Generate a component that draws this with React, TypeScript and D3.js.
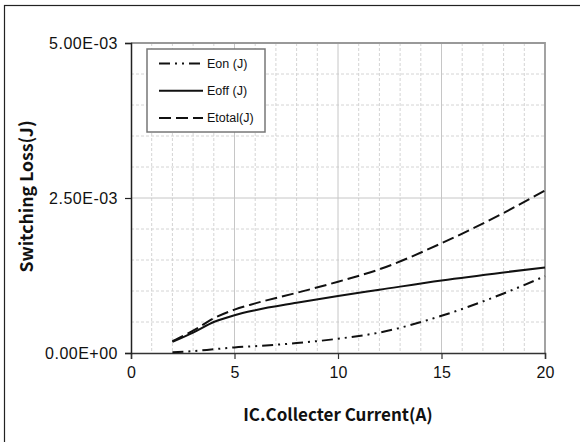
import React, { useEffect, useRef } from "react";
import * as d3 from "d3";

// collector current (A)
const current = [2, 3, 4, 5, 6, 8, 10, 12, 15, 18, 20];
// switching losses (J)
const eon = [0.00001, 0.00003, 0.00006, 0.00009, 0.00011, 0.00016, 0.00023, 0.00033, 0.0006, 0.00096, 0.00124];
const eoff = [0.00018, 0.00033, 0.0005, 0.00061, 0.00069, 0.00081, 0.00092, 0.00102, 0.00117, 0.0013, 0.00138];
const etotal = [0.00019, 0.00036, 0.00056, 0.0007, 0.0008, 0.00097, 0.00115, 0.00135, 0.00177, 0.00226, 0.00262];

const xTicks = [0, 5, 10, 15, 20];
const yTicks = [0, 0.0025, 0.005];
const yTickLabels = ["0.00E+00", "2.50E-03", "5.00E-03"];

const seriesNames = ["Eon (J)", "Eoff (J)", "Etotal(J)"];
const seriesDash = ["11,5,2,5,2,5", null, "12,5"];

const App: React.FC = () => {
  const svgRef = useRef<SVGSVGElement>(null);

  useEffect(() => {
    if (!svgRef.current) return;
    const svg = d3.select(svgRef.current);
    svg.selectAll("*").remove();

    const width = 580;
    const height = 442;
    const margin = { top: 43, right: 35, bottom: 89, left: 131 };
    const w = width - margin.left - margin.right;
    const h = height - margin.top - margin.bottom;

    svg.append("rect").attr("width", width).attr("height", height).attr("fill", "white");

    // outer border
    svg
      .append("rect")
      .attr("x", 4.5)
      .attr("y", 5.5)
      .attr("width", width)
      .attr("height", height)
      .attr("fill", "none")
      .attr("stroke", "#222")
      .attr("stroke-width", 1.2);

    const g = svg.append("g").attr("transform", `translate(${margin.left},${margin.top})`);

    const x = d3.scaleLinear().domain([0, 20]).range([0, w]);
    const y = d3.scaleLinear().domain([0, 0.005]).range([h, 0]);

    // minor grid
    const minorX = d3.range(1, 20).filter((v) => v % 5 !== 0);
    const minorY = d3.range(1, 10).filter((v) => v % 5 !== 0).map((v) => v * 0.0005);
    g.selectAll(".mx")
      .data(minorX)
      .enter()
      .append("line")
      .attr("x1", (d) => x(d))
      .attr("x2", (d) => x(d))
      .attr("y1", 0)
      .attr("y2", h)
      .attr("stroke", "#d4d4d4")
      .attr("stroke-dasharray", "3,2");
    g.selectAll(".my")
      .data(minorY)
      .enter()
      .append("line")
      .attr("x1", 0)
      .attr("x2", w)
      .attr("y1", (d) => y(d))
      .attr("y2", (d) => y(d))
      .attr("stroke", "#d4d4d4")
      .attr("stroke-dasharray", "3,2");

    // major grid
    g.selectAll(".Mx")
      .data([5, 10, 15])
      .enter()
      .append("line")
      .attr("x1", (d) => x(d))
      .attr("x2", (d) => x(d))
      .attr("y1", 0)
      .attr("y2", h)
      .attr("stroke", "#c6c6c6");
    g.selectAll(".My")
      .data([0.0025])
      .enter()
      .append("line")
      .attr("x1", 0)
      .attr("x2", w)
      .attr("y1", (d) => y(d))
      .attr("y2", (d) => y(d))
      .attr("stroke", "#c6c6c6");

    // plot frame top/right
    g.append("path")
      .attr("d", `M0,0H${w}V${h}`)
      .attr("fill", "none")
      .attr("stroke", "#999")
      .attr("stroke-width", 1.8);

    // axes
    const xAxis = g
      .append("g")
      .attr("transform", `translate(0,${h})`)
      .call(d3.axisBottom(x).tickValues(xTicks).tickSize(6).tickFormat((d) => `${d}`));
    xAxis.select(".domain").attr("stroke", "#333").attr("stroke-width", 1.5);
    xAxis.selectAll(".tick line").attr("stroke", "#333").attr("stroke-width", 1.2);
    xAxis
      .selectAll("text")
      .attr("y", 14)
      .attr("dy", "0.71em")
      .style("font-family", "Liberation Sans, Arial, sans-serif")
      .style("font-size", "16px")
      .attr("fill", "#111");

    const yAxis = g
      .append("g")
      .call(
        d3
          .axisLeft(y)
          .tickValues(yTicks)
          .tickSize(6)
          .tickFormat((d, i) => yTickLabels[i])
      );
    yAxis.select(".domain").attr("stroke", "#222").attr("stroke-width", 1.5);
    yAxis.selectAll(".tick line").attr("stroke", "#222").attr("stroke-width", 1.2);
    yAxis
      .selectAll("text")
      .attr("x", -13)
      .style("font-family", "Liberation Sans, Arial, sans-serif")
      .style("font-size", "16px")
      .style("letter-spacing", "0.5px")
      .attr("fill", "#111");

    // series
    const all = [eon, eoff, etotal];
    all.forEach((vals, i) => {
      const line = d3
        .line<number>()
        .x((_, j) => x(current[j]))
        .y((d) => y(d))
        .curve(d3.curveMonotoneX);
      const p = g
        .append("path")
        .datum(vals)
        .attr("fill", "none")
        .attr("stroke", "#111")
        .attr("stroke-width", 2)
        .attr("d", line);
      if (seriesDash[i]) p.attr("stroke-dasharray", seriesDash[i]!);
    });

    // legend
    const legend = svg.append("g").attr("transform", "translate(147,49)");
    legend
      .append("rect")
      .attr("width", 118)
      .attr("height", 83)
      .attr("fill", "white")
      .attr("stroke", "#777")
      .attr("stroke-width", 1.5);
    seriesNames.forEach((name, i) => {
      const ly = 14.5 + i * 27.3;
      const l = legend
        .append("line")
        .attr("x1", 12)
        .attr("x2", 56)
        .attr("y1", ly)
        .attr("y2", ly)
        .attr("stroke", "#111")
        .attr("stroke-width", 2);
      if (seriesDash[i]) l.attr("stroke-dasharray", seriesDash[i]!);
      legend
        .append("text")
        .attr("x", 60)
        .attr("y", ly)
        .attr("dy", "0.35em")
        .style("font-family", "Liberation Sans, Arial, sans-serif")
        .style("font-size", "12.5px")
        .attr("fill", "#111")
        .text(name);
    });

    // axis titles
    svg
      .append("text")
      .attr("x", margin.left + w / 2)
      .attr("y", 421)
      .attr("text-anchor", "middle")
      .style("font-family", "Noto Sans CJK KR, sans-serif")
      .style("font-weight", "bold")
      .style("font-size", "17px")
      .attr("fill", "#111")
      .text("IC.Collecter Current(A)");

    svg
      .append("text")
      .attr("transform", `translate(33,196.5) rotate(-90)`)
      .attr("text-anchor", "middle")
      .style("font-family", "Noto Sans CJK KR, sans-serif")
      .style("font-weight", "bold")
      .style("font-size", "17.7px")
      .attr("fill", "#111")
      .text("Switching Loss(J)");
  }, []);

  return (
    <svg
      ref={svgRef}
      width={580}
      height={442}
      style={{ position: "absolute", left: 0, top: 0, display: "block" }}
    />
  );
};

export default App;
